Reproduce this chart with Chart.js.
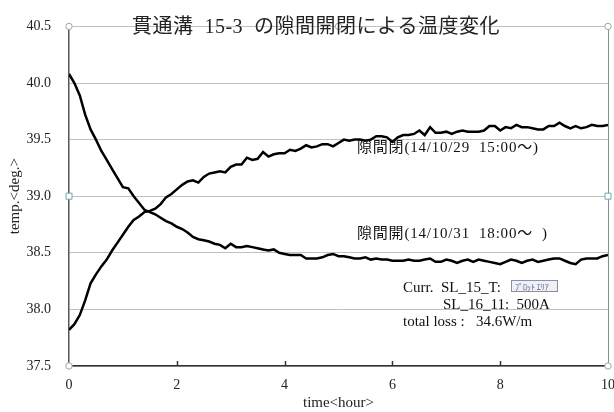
<!DOCTYPE html>
<html>
<head>
<meta charset="utf-8">
<script src="https://cdn.jsdelivr.net/npm/chart.js@4/dist/chart.umd.min.js"></script>
<style>
  html, body { margin: 0; padding: 0; background: #fff; }
  #wrap { width: 614px; height: 412px; }
</style>
</head>
<body>
<div id="wrap"><canvas id="c" width="614" height="412"></canvas></div>
<script>
const titleText = "貫通溝  15-3  の隙間開閉による温度変化";
const hours = [];
for (let i = 0; i <= 100; i++) hours.push(i / 10);

// 隙間閉 (rising)
const closedTemp = [
  37.82, 37.87, 37.95, 38.08, 38.23, 38.31, 38.38, 38.44, 38.52, 38.59,
  38.66, 38.73, 38.79, 38.82, 38.86, 38.87, 38.89, 38.93, 38.99, 39.02,
  39.06, 39.10, 39.13, 39.14, 39.12, 39.17, 39.20, 39.21, 39.22, 39.21,
  39.26, 39.28, 39.28, 39.34, 39.32, 39.33, 39.39, 39.35, 39.37, 39.38,
  39.38, 39.41, 39.40, 39.42, 39.45, 39.43, 39.44, 39.46, 39.46, 39.44,
  39.47, 39.50, 39.49, 39.50, 39.50, 39.49, 39.50, 39.53, 39.53, 39.52,
  39.48, 39.52, 39.54, 39.54, 39.55, 39.58, 39.54, 39.61, 39.56, 39.56,
  39.57, 39.55, 39.57, 39.58, 39.57, 39.57, 39.57, 39.58, 39.62, 39.62,
  39.58, 39.61, 39.60, 39.63, 39.61, 39.61, 39.60, 39.59, 39.59, 39.62,
  39.62, 39.65, 39.62, 39.60, 39.62, 39.60, 39.61, 39.63, 39.62, 39.62,
  39.63
];

// 隙間開 (falling)
const openTemp = [
  40.08, 40.00, 39.89, 39.72, 39.59, 39.50, 39.40, 39.32, 39.24, 39.16,
  39.08, 39.07, 39.00, 38.94, 38.88, 38.86, 38.84, 38.81, 38.78, 38.76,
  38.73, 38.71, 38.68, 38.64, 38.62, 38.61, 38.60, 38.58, 38.57, 38.54,
  38.58, 38.55, 38.55, 38.56, 38.55, 38.54, 38.53, 38.52, 38.53, 38.50,
  38.49, 38.48, 38.48, 38.48, 38.45, 38.45, 38.45, 38.46, 38.48, 38.49,
  38.47, 38.47, 38.46, 38.45, 38.45, 38.46, 38.44, 38.45, 38.44, 38.44,
  38.43, 38.43, 38.43, 38.44, 38.43, 38.43, 38.44, 38.45, 38.42, 38.42,
  38.44, 38.43, 38.41, 38.43, 38.44, 38.42, 38.44, 38.43, 38.42, 38.41,
  38.40, 38.42, 38.44, 38.43, 38.41, 38.43, 38.44, 38.42, 38.43, 38.44,
  38.45, 38.45, 38.43, 38.41, 38.40, 38.44, 38.45, 38.45, 38.45, 38.47,
  38.48
];

const xTicks = [0, 2, 4, 6, 8, 10];
const yMin = 37.5, yMax = 40.5;

const serif = '"Liberation Serif", "Times New Roman", "Noto Sans CJK JP", serif';

const toPts = (ys) => ys.map((y, i) => ({ x: hours[i], y }));

const overlay = {
  id: "overlay",
  afterDraw(chart) {
    const { ctx, chartArea: a, scales: { x, y } } = chart;
    ctx.save();
    // right border
    ctx.strokeStyle = "#8c8c8c";
    ctx.lineWidth = 1;
    ctx.beginPath();
    ctx.moveTo(a.right + 0.5, a.top);
    ctx.lineTo(a.right + 0.5, a.bottom);
    ctx.stroke();
    // x tick marks inside
    ctx.strokeStyle = "#333";
    ctx.lineWidth = 1.5;
    xTicks.slice(1, -1).forEach(v => {
      const px = Math.round(x.getPixelForValue(v)) + 0.5;
      ctx.beginPath();
      ctx.moveTo(px, a.bottom);
      ctx.lineTo(px, a.bottom - 5);
      ctx.stroke();
    });
    // selection handles
    const handles = [[0, 40.5], [5, 40.5], [10, 40.5], [0, 39.0], [10, 39.0], [0, 37.5], [10, 37.5]];
    handles.forEach(([hx, hy], i) => {
      const px = x.getPixelForValue(hx), py = y.getPixelForValue(hy);
      ctx.fillStyle = "#fff";
      ctx.strokeStyle = i === 3 || i === 4 ? "#6fa8b8" : "#9aa8a8";
      ctx.lineWidth = 1;
      ctx.beginPath();
      if (i === 3 || i === 4) ctx.rect(px - 3, py - 3, 6, 6);
      else ctx.arc(px, py, 3.2, 0, Math.PI * 2);
      ctx.fill();
      ctx.stroke();
    });
    // title
    ctx.fillStyle = "#222";
    ctx.font = "20px " + serif;
    ctx.textAlign = "center";
    ctx.textBaseline = "middle";
    ctx.letterSpacing = "0.5px";
    ctx.fillText(titleText, 316, a.top + 1);
    // annotations
    ctx.fillStyle = "#111";
    ctx.font = "15px " + serif;
    ctx.textAlign = "left";
    ctx.letterSpacing = "0.8px";
    ctx.fillText("隙間閉(14/10/29  15:00～)", 357, 148);
    ctx.fillText("隙間開(14/10/31  18:00～  )", 357, 234);
    ctx.letterSpacing = "0px";
    ctx.fillText("Curr.  SL_15_T:", 403, 288);
    ctx.fillText("SL_16_11:  500A", 443, 305);
    ctx.fillText("total loss :   34.6W/m", 403, 322);
    // tooltip-like box
    ctx.fillStyle = "#eef0f6";
    ctx.strokeStyle = "#8a8fa8";
    ctx.lineWidth = 1;
    ctx.fillRect(511.5, 280.5, 46, 11);
    ctx.strokeRect(511.5, 280.5, 46, 11);
    ctx.fillStyle = "#555a80";
    ctx.font = "8px \"Noto Sans CJK JP\", sans-serif";
    ctx.fillText("ﾌﾟﾛｯﾄ ｴﾘｱ", 515, 286.5);
    ctx.restore();
  }
};

new Chart(document.getElementById("c"), {
  type: "line",
  data: {
    datasets: [
      { label: "隙間閉", data: toPts(closedTemp), borderColor: "#000", borderWidth: 2.5, pointRadius: 0, tension: 0 },
      { label: "隙間開", data: toPts(openTemp), borderColor: "#000", borderWidth: 2.5, pointRadius: 0, tension: 0 }
    ]
  },
  options: {
    responsive: false,
    animation: false,
    events: [],
    layout: { padding: { top: 13, right: 0, left: 0, bottom: 0 } },
    plugins: { legend: { display: false }, tooltip: { enabled: false } },
    scales: {
      x: {
        type: "linear",
        min: 0, max: 10,
        afterBuildTicks: (s) => { s.ticks = xTicks.map(v => ({ value: v })); },
        afterFit: (s) => { s.height = 46; s.paddingRight = 6; s.paddingLeft = 0; },
        grid: { display: false },
        border: { display: true, color: "#333", width: 1.5 },
        ticks: { color: "#222", font: { family: serif, size: 14 }, padding: 3, maxRotation: 0 },
        title: { display: true, text: "time<hour>", color: "#222", font: { family: serif, size: 15 }, padding: { top: 0, bottom: 0 } }
      },
      y: {
        min: yMin, max: yMax,
        afterFit: (s) => { s.width = 69; },
        ticks: { stepSize: 0.5, color: "#222", font: { family: serif, size: 14 }, padding: 18, callback: v => v.toFixed(1) },
        grid: { color: "#c0c0c0", lineWidth: 1, drawTicks: false },
        border: { display: true, color: "#555", width: 1.5 },
        title: { display: true, text: "temp.<deg.>", color: "#222", font: { family: serif, size: 15 }, padding: { top: 6, bottom: 0 } }
      }
    }
  },
  plugins: [overlay]
});
</script>
</body>
</html>
